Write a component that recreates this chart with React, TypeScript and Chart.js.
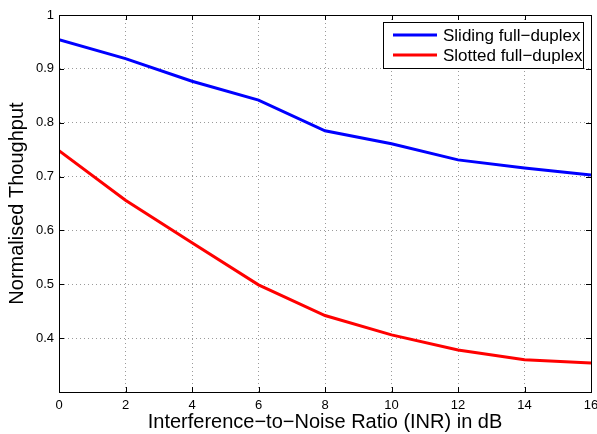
import React, { useEffect, useRef } from "react";
import { Chart, registerables } from "chart.js";

Chart.register(...registerables);

const inr = [0, 2, 4, 6, 8, 10, 12, 14, 16];
const sliding = [0.954, 0.919, 0.877, 0.842, 0.785, 0.761, 0.731, 0.716, 0.703];
const slotted = [0.748, 0.656, 0.577, 0.499, 0.442, 0.406, 0.378, 0.36, 0.354];
const seriesNames = ["Sliding full\u2212duplex", "Slotted full\u2212duplex"];
const seriesColors = ["#0000ff", "#ff0000"];
const xTitle = "Interference\u2212to\u2212Noise Ratio (INR) in dB";
const yTitle = "Normalised Thoughput";

const FONT = "'Liberation Sans', Arial, Helvetica, sans-serif";

const framePlugin = {
  id: "frame",
  afterDraw(chart: any) {
    const { ctx, chartArea: a, scales } = chart;
    ctx.save();
    ctx.strokeStyle = "#000";
    ctx.lineWidth = 1;
    ctx.strokeRect(Math.round(a.left) + 0.5, Math.round(a.top) + 0.5, Math.round(a.right - a.left), Math.round(a.bottom - a.top));
    const tl = 5;
    ctx.beginPath();
    scales.x.ticks.forEach((t: any) => {
      const px = Math.round(scales.x.getPixelForValue(t.value)) + 0.5;
      ctx.moveTo(px, a.bottom);
      ctx.lineTo(px, a.bottom - tl);
      ctx.moveTo(px, a.top);
      ctx.lineTo(px, a.top + tl);
    });
    scales.y.ticks.forEach((t: any) => {
      const py = Math.round(scales.y.getPixelForValue(t.value)) + 0.5;
      ctx.moveTo(a.left, py);
      ctx.lineTo(a.left + tl, py);
      ctx.moveTo(a.right, py);
      ctx.lineTo(a.right - tl, py);
    });
    ctx.stroke();

    // legend
    const lx = 383, ly = 22, lw = 200, lh = 46;
    ctx.fillStyle = "#fff";
    ctx.fillRect(lx, ly, lw, lh);
    ctx.strokeStyle = "#000";
    ctx.lineWidth = 1;
    ctx.strokeRect(lx + 0.5, ly + 0.5, lw, lh);
    ctx.font = `17px ${FONT}`;
    ctx.textBaseline = "middle";
    ctx.textAlign = "left";
    seriesNames.forEach((name, i) => {
      const y = ly + 13 + i * 20;
      ctx.strokeStyle = seriesColors[i];
      ctx.lineWidth = 3;
      ctx.beginPath();
      ctx.moveTo(393, y);
      ctx.lineTo(437, y);
      ctx.stroke();
      ctx.fillStyle = "#000";
      ctx.fillText(name, 443, y + 1);
    });
    ctx.restore();
  },
};

export default function App() {
  const ref = useRef<HTMLCanvasElement>(null);
  useEffect(() => {
    if (!ref.current) return;
    const chart = new Chart(ref.current, {
      type: "line",
      data: {
        datasets: [
          {
            label: seriesNames[0],
            data: inr.map((x, i) => ({ x, y: sliding[i] })),
            borderColor: seriesColors[0],
            borderWidth: 3,
            pointRadius: 0,
            tension: 0,
          },
          {
            label: seriesNames[1],
            data: inr.map((x, i) => ({ x, y: slotted[i] })),
            borderColor: seriesColors[1],
            borderWidth: 3,
            pointRadius: 0,
            tension: 0,
          },
        ],
      },
      plugins: [framePlugin],
      options: {
        animation: false,
        responsive: false,
        devicePixelRatio: 1,
        layout: { padding: { top: 15, right: 6, left: 0, bottom: 0 } },
        plugins: { legend: { display: false }, tooltip: { enabled: false } },
        scales: {
          x: {
            type: "linear",
            min: 0,
            max: 16,
            ticks: {
              stepSize: 2,
              color: "#000",
              font: { family: FONT, size: 13 },
              padding: 6,
              maxRotation: 0,
            },
            grid: { color: "#9a9a9a", drawTicks: false, lineWidth: 1 },
            border: { display: true, color: "#000", dash: [1, 3] },
            title: {
              display: true,
              text: xTitle,
              color: "#000",
              font: { family: FONT, size: 20 },
              padding: { top: 0, bottom: 0 },
            },
            afterFit(scale: any) {
              scale.height = 42;
              scale.paddingLeft = 0;
              scale.paddingRight = 0;
            },
          } as any,
          y: {
            min: 0.3,
            max: 1,
            ticks: {
              stepSize: 0.1,
              color: "#000",
              font: { family: FONT, size: 13 },
              padding: 5,
              callback: (v: any) => (Math.abs(v - 0.3) < 1e-6 ? "" : String(Math.round(v * 10) / 10)),
            },
            grid: { color: "#9a9a9a", drawTicks: false, lineWidth: 1 },
            border: { display: true, color: "#000", dash: [1, 3] },
            title: {
              display: true,
              text: yTitle,
              color: "#000",
              font: { family: FONT, size: 20 },
              padding: { top: 5, bottom: 4 },
            },
            afterFit(scale: any) {
              scale.width = 59;
              scale.paddingTop = 0;
              scale.paddingBottom = 0;
            },
          } as any,
        },
      },
    } as any);
    return () => chart.destroy();
  }, []);
  return (
    <div style={{ position: "fixed", left: 0, top: 0, width: 597, height: 434, background: "#fff" }}>
      <canvas ref={ref} width={597} height={434} style={{ display: "block" }} />
    </div>
  );
}
